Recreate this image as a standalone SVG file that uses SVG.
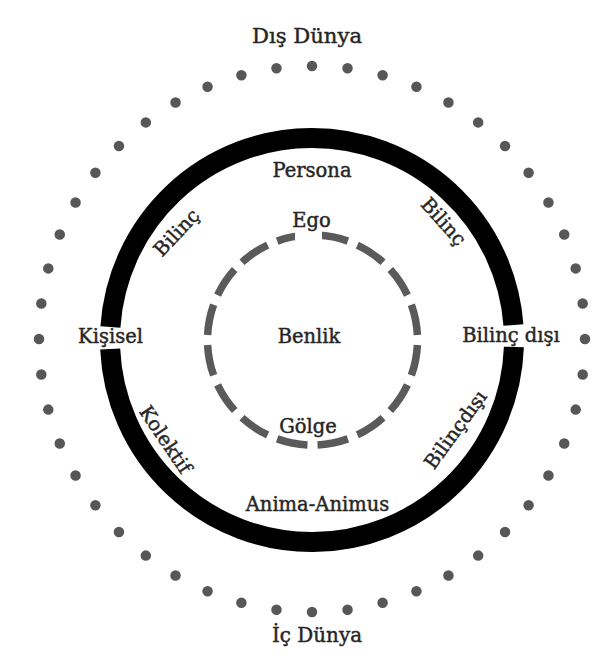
<svg xmlns="http://www.w3.org/2000/svg" width="615" height="668" viewBox="0 0 615 668">
  <style>
    .lbl { font-family: "DejaVu Serif", "Liberation Serif", serif; font-size: 19.5px; fill: #262626; stroke: #262626; stroke-width: 0.45px; }
    .world { font-size: 20.5px; }
    .mid { text-anchor: middle; }
  </style>
  <rect width="615" height="668" fill="#ffffff"/>

  <g id="outer-world">
    <circle cx="312" cy="339" r="273" fill="none" stroke="#575757" stroke-width="10.5" stroke-linecap="round" pathLength="48" stroke-dasharray="0 1"/>
  </g>

  <g id="psyche-ring">
    <path d="M110.42 327 A202 202 0 0 1 513.44 325" fill="none" stroke="#000" stroke-width="20"/>
    <path d="M513.88 347 A202 202 0 0 1 110.20 349" fill="none" stroke="#000" stroke-width="20"/>
  </g>

  <g id="self-circle">
    <circle cx="312.5" cy="340" r="105" fill="none" stroke="#5a5a5a" stroke-width="7.5" pathLength="320" stroke-dasharray="15 5" stroke-dashoffset="17.5"/>
  </g>

  <g id="labels">
    <text id="dis-dunya" class="lbl world mid" x="307" y="43" textLength="110" lengthAdjust="spacingAndGlyphs">Dış Dünya</text>
    <text id="persona" class="lbl mid" x="312" y="177">Persona</text>
    <g id="ego">
      <rect x="295" y="226" width="27" height="14" fill="#fff"/>
      <text class="lbl mid" x="311.5" y="227">Ego</text>
    </g>
    <text id="benlik" class="lbl mid" x="309" y="343">Benlik</text>
    <text id="golge" class="lbl mid" x="308" y="433">Gölge</text>
    <text id="kisisel" class="lbl mid" x="110.5" y="343">Kişisel</text>
    <text id="bilinc-disi" class="lbl mid" x="511" y="342">Bilinç dışı</text>
    <text id="anima-animus" class="lbl mid" x="317.5" y="511">Anima-Animus</text>
    <text id="ic-dunya" class="lbl world mid" x="317" y="642" textLength="90" lengthAdjust="spacingAndGlyphs">İç Dünya</text>
    <text id="bilinc-left" class="lbl mid" transform="translate(177 233) rotate(-47)" x="0" y="6">Bilinç</text>
    <text id="bilinc-right" class="lbl mid" transform="translate(443 222) rotate(48)" x="0" y="6">Bilinç</text>
    <text id="kolektif" class="lbl mid" transform="translate(165 440) rotate(56)" x="0" y="6">Kolektif</text>
    <text id="bilincdisi" class="lbl mid" transform="translate(456 430) rotate(-54)" x="0" y="6">Bilinçdışı</text>
  </g>
</svg>
